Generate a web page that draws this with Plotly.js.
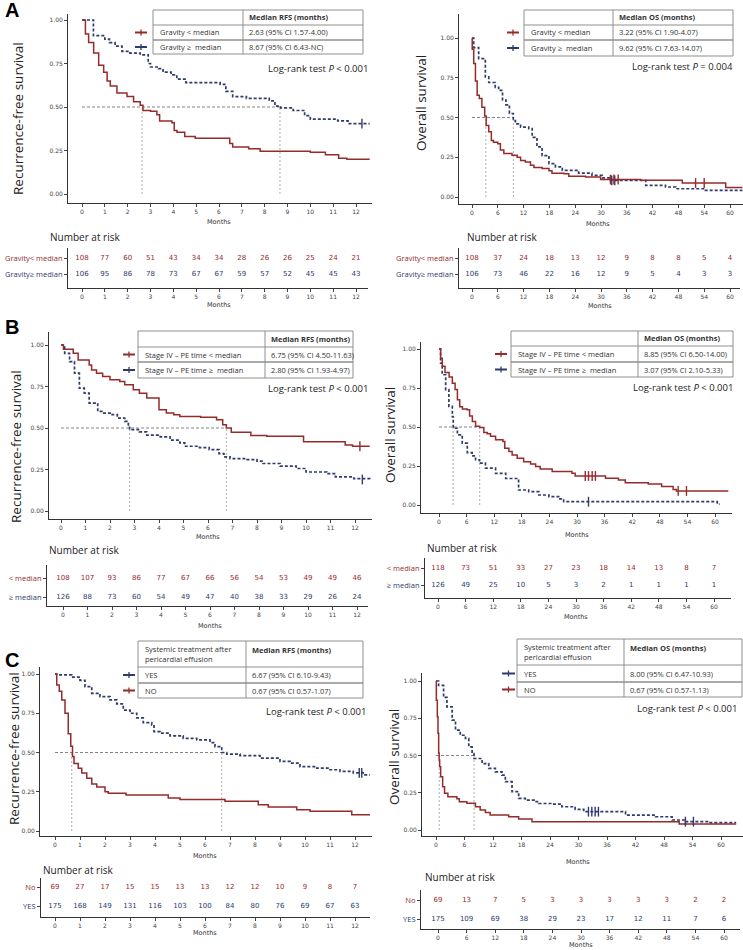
<!DOCTYPE html>
<html>
<head>
<meta charset="utf-8">
<script src="https://cdn.plot.ly/plotly-3.0.1.min.js"></script>
<style>body{margin:0;background:#fff}#chart{width:743px;height:950px}</style>
</head>
<body>
<div id="chart"></div>
<script>
var RED = '#962b2b', BLUE = '#2e3b6c';

// ---- data ----
var monthsShort = [0,1,2,3,4,5,6,7,8,9,10,11,12];
var monthsLong = [0,6,12,18,24,30,36,42,48,54,60];
var survTicks = [0,0.25,0.5,0.75,1];

// A: gravity, RFS
var aRfsLowT = [0,0.15,0.29,0.51,0.73,0.95,1.1,1.24,1.53,1.97,2.26,2.55,2.67,3.0,3.28,3.4,3.94,4.04,4.16,4.5,4.96,6.47,6.6,7.3,7.8,10.0,10.66,11.24,11.6,12.6];
var aRfsLowS = [1,0.92,0.87,0.81,0.74,0.70,0.65,0.62,0.58,0.56,0.53,0.51,0.48,0.475,0.456,0.42,0.41,0.365,0.355,0.33,0.32,0.29,0.27,0.26,0.245,0.24,0.225,0.205,0.2,0.2];
var aRfsHighT = [0,0.5,1.0,1.2,1.45,1.75,2.1,2.55,2.9,3.0,3.35,3.55,3.9,4.15,4.55,6.05,6.3,6.6,7.2,8.2,8.45,8.7,9.25,9.75,10.0,11.2,11.65,12.6];
var aRfsHighS = [1,0.91,0.89,0.87,0.85,0.82,0.81,0.80,0.75,0.73,0.72,0.70,0.685,0.66,0.64,0.63,0.59,0.56,0.55,0.535,0.505,0.495,0.48,0.45,0.43,0.42,0.405,0.405];
var aRfsHighCensT = [12.26], aRfsHighCensS = [0.405];
var aRfsMedians = [2.63, 8.67];

// A: gravity, OS
var aOsLowT = [0,0.05,0.4,0.8,1.2,1.7,2.3,2.95,3.3,3.9,4.5,5.0,6.0,6.6,7.4,9.3,10.5,11.3,12.4,13.6,14.4,16.3,17.9,18.6,21.4,22.5,26.4,29.9,39.2,48.9,59,62.9];
var aOsLowS = [1,0.93,0.84,0.73,0.64,0.62,0.565,0.51,0.45,0.41,0.355,0.345,0.335,0.295,0.273,0.262,0.25,0.23,0.22,0.2,0.185,0.18,0.165,0.15,0.147,0.13,0.126,0.11,0.105,0.088,0.06,0.06];
var aOsLowCensT = [32.2,33.0,34.0,52,54], aOsLowCensS = [0.11,0.11,0.11,0.088,0.088];
var aOsHighT = [0,0.4,1.55,3.1,3.9,5.4,6.2,7.1,7.9,8.7,9.6,10.1,11.3,13.2,14.0,15.1,16.3,17.9,19.4,21,24.8,27.9,30.3,32.0,40.4,45,47.4,54.3,62.9];
var aOsHighS = [1,0.94,0.87,0.755,0.72,0.69,0.67,0.61,0.58,0.525,0.48,0.46,0.44,0.43,0.375,0.315,0.26,0.21,0.19,0.168,0.15,0.136,0.12,0.105,0.073,0.063,0.052,0.042,0.042];
var aOsHighCensT = [32.5,33.2], aOsHighCensS = [0.105,0.105];
var aOsMedians = [3.22, 9.62];

// B: stage IV - PE time, RFS
var bRfsLowT = [0,0.1,0.5,0.7,1.15,1.25,1.45,1.7,2.0,2.4,2.6,2.95,3.2,3.5,4.0,4.3,4.6,4.85,5.7,6.35,6.6,6.75,6.95,7.75,8.4,9.9,11.6,11.9,12.6];
var bRfsLowS = [1,0.975,0.95,0.91,0.88,0.85,0.83,0.81,0.79,0.78,0.76,0.73,0.71,0.68,0.61,0.59,0.58,0.57,0.565,0.55,0.52,0.50,0.475,0.455,0.45,0.417,0.397,0.39,0.39];
var bRfsLowCensT = [12.2], bRfsLowCensS = [0.39];
var bRfsHighT = [0,0.15,0.35,0.55,0.75,0.95,1.15,1.5,1.7,2.05,2.3,2.6,2.75,2.8,3.2,3.5,4.05,4.45,4.85,5.05,5.65,6.05,6.45,6.65,6.9,7.6,8.0,8.25,8.95,9.6,10.0,10.85,11.2,11.95,12.6];
var bRfsHighS = [1,0.95,0.9,0.83,0.74,0.71,0.65,0.6,0.59,0.58,0.56,0.54,0.51,0.49,0.477,0.457,0.447,0.427,0.41,0.39,0.382,0.37,0.346,0.326,0.316,0.31,0.30,0.286,0.27,0.256,0.235,0.225,0.205,0.195,0.19];
var bRfsHighCensT = [12.3], bRfsHighCensS = [0.19];
var bRfsMedians = [6.75, 2.80];

// B: stage IV - PE time, OS
var bOsLowT = [0,0.35,0.7,1.3,2.2,2.9,3.5,4.0,4.5,5.1,6.1,6.65,7.25,7.95,8.85,9.75,10.5,11.2,12.3,13.9,14.3,15.2,15.9,17,18.4,19.9,21,22,24.6,28.9,29.6,36.2,39,40.5,45.5,48.4,50.9,51.6,62.9];
var bOsLowS = [1,0.94,0.89,0.85,0.82,0.78,0.74,0.675,0.63,0.615,0.61,0.57,0.535,0.505,0.497,0.465,0.456,0.44,0.418,0.407,0.364,0.343,0.321,0.3,0.278,0.263,0.246,0.23,0.214,0.203,0.186,0.171,0.16,0.143,0.135,0.118,0.10,0.09,0.09];
var bOsLowCensT = [31.8,32.5,33.3,34.0,52.0,53.8], bOsLowCensS = [0.186,0.186,0.186,0.186,0.09,0.09];
var bOsHighT = [0,0.35,0.7,1.45,2.15,2.9,3.1,4.0,5.05,6.15,7.2,7.95,8.8,10.1,12.3,14.5,17.3,19.5,21.7,23.9,26,27.1,60.5,61];
var bOsHighS = [1,0.91,0.835,0.74,0.632,0.567,0.492,0.45,0.396,0.336,0.315,0.29,0.268,0.236,0.203,0.17,0.096,0.086,0.064,0.054,0.039,0.021,0.006,0.006];
var bOsHighCensT = [32.5], bOsHighCensS = [0.021];
var bOsMedians = [8.85, 3.07];

// C: systemic treatment, RFS
var cRfsNoT = [0,0.07,0.17,0.27,0.4,0.53,0.63,0.7,0.76,0.93,1.07,1.27,1.47,1.67,2.0,2.13,2.84,4.53,5.0,6.8,8.13,8.53,9.67,10.2,11.87,12.6];
var cRfsNoS = [1,0.93,0.89,0.835,0.75,0.62,0.54,0.475,0.43,0.40,0.37,0.336,0.30,0.28,0.25,0.24,0.23,0.21,0.2,0.19,0.167,0.153,0.136,0.125,0.104,0.104];
var cRfsYesT = [0,0.07,0.67,1.0,1.2,1.47,1.8,2.2,2.47,2.73,3.0,3.27,3.53,3.87,3.96,4.2,4.6,5.13,5.67,6.2,6.4,6.67,6.87,7.4,8.2,9.0,9.4,9.8,10.47,11.0,11.4,11.93,12.4,12.6];
var cRfsYesS = [1,0.994,0.98,0.96,0.92,0.877,0.856,0.835,0.81,0.77,0.75,0.72,0.69,0.676,0.633,0.623,0.606,0.59,0.58,0.563,0.538,0.5,0.49,0.48,0.464,0.443,0.432,0.41,0.40,0.39,0.38,0.37,0.358,0.358];
var cRfsYesCensT = [12.17,12.27], cRfsYesCensS = [0.37,0.37];
var cRfsMedians = [6.67, 0.67];

// C: systemic treatment, OS
var cOsNoT = [0,0.07,0.28,0.42,0.56,0.67,0.77,0.98,1.4,1.8,2.5,4.4,4.9,6.5,8.3,9.3,10.4,11.4,15.3,17.4,20.2,51.2,63.2];
var cOsNoS = [1,0.87,0.76,0.65,0.516,0.47,0.424,0.357,0.29,0.246,0.223,0.21,0.19,0.18,0.156,0.134,0.118,0.10,0.089,0.074,0.056,0.04,0.04];
var cOsYesT = [0,0.55,1.6,2.3,3.4,4.1,5.1,6.2,6.9,7.6,8.0,9.7,11.1,12.5,13.9,14.6,16,17.4,18.8,20.9,21.6,24.4,26.5,29.3,31.1,39.9,46.2,49.7,52.5,57.4,63.2];
var cOsYesS = [1,0.97,0.89,0.826,0.737,0.67,0.636,0.614,0.558,0.513,0.48,0.446,0.413,0.39,0.368,0.324,0.257,0.212,0.2,0.19,0.178,0.174,0.156,0.138,0.123,0.10,0.089,0.067,0.056,0.049,0.049];
var cOsYesCensT = [32.1,32.8,33.5,34.2,52.5,54.2], cOsYesCensS = [0.123,0.123,0.123,0.123,0.056,0.056];
var cOsMedians = [8.00, 0.67];

// numbers at risk
var aRiskRfsLow = [108,77,60,51,43,34,34,28,26,26,25,24,21];
var aRiskRfsHigh = [106,95,86,78,73,67,67,59,57,52,45,45,43];
var aRiskOsLow = [108,37,24,18,13,12,9,8,8,5,4];
var aRiskOsHigh = [106,73,46,22,16,12,9,5,4,3,3];
var bRiskRfsLow = [108,107,93,86,77,67,66,56,54,53,49,49,46];
var bRiskRfsHigh = [126,88,73,60,54,49,47,40,38,33,29,26,24];
var bRiskOsLow = [118,73,51,33,27,23,18,14,13,8,7];
var bRiskOsHigh = [126,49,25,10,5,3,2,1,1,1,1];
var cRiskRfsNo = [69,27,17,15,15,13,13,12,12,10,9,8,7];
var cRiskRfsYes = [175,168,149,131,116,103,100,84,80,76,69,67,63];
var cRiskOsNo = [69,13,7,5,3,3,3,3,3,2,2];
var cRiskOsYes = [175,109,69,38,29,23,17,12,11,7,6];

// ---- layout helpers ----
var W = 743, H = 950;
function px(x) { return x / W; }
function py(y) { return 1 - y / H; }
function lin(pA, vA, pB, vB, q0, q1) {
  var k = (vB - vA) / (pB - pA);
  return [vA + (q0 - pA) * k, vA + (q1 - pA) * k];
}

var traces = [];
var shapes = [];
var annotations = [];
var layout = {
  width: W, height: H,
  margin: {l: 0, r: 0, t: 0, b: 0},
  paper_bgcolor: '#fff', plot_bgcolor: 'rgba(0,0,0,0)',
  showlegend: false,
  font: {family: 'Open Sans', color: '#222'}
};

function setAxes(n, box, xticks, yticks, yticktext) {
  var sx = n == 1 ? '' : String(n);
  var base = {showline: true, linecolor: '#333', linewidth: 1, ticks: 'outside', ticklen: 3,
    tickcolor: '#444', tickwidth: 1, showgrid: false, zeroline: false, fixedrange: true,
    tickfont: {family: 'DejaVu Sans', size: 6, color: '#444'}};
  layout['xaxis' + sx] = Object.assign({}, base, {
    domain: [px(box.left), px(box.right)],
    range: lin(box.xA[0], box.xA[1], box.xB[0], box.xB[1], box.left, box.right),
    anchor: 'y' + sx, tickmode: 'array', tickvals: xticks
  });
  var ya = Object.assign({}, base, {
    domain: [py(box.bottom), py(box.top)],
    range: lin(box.yA[0], box.yA[1], box.yB[0], box.yB[1], box.bottom, box.top),
    anchor: 'x' + sx, tickmode: 'array', tickvals: yticks
  });
  if (yticktext) {
    ya.ticktext = yticktext;
    ya.tickfont = {family: 'Open Sans', size: 7.5, color: '#444'};
  } else {
    ya.tickformat = '.2f';
  }
  layout['yaxis' + sx] = ya;
  return {x: 'x' + sx, y: 'y' + sx};
}

function kmLine(t, s, color, dashed, ax) {
  traces.push({x: t, y: s, xaxis: ax.x, yaxis: ax.y, mode: 'lines', hoverinfo: 'skip',
    line: {shape: 'hv', color: color, width: dashed ? 1.7 : 1.5, dash: dashed ? '3px,2px' : 'solid'}});
}
function censor(t, s, color, ax) {
  traces.push({x: t, y: s, xaxis: ax.x, yaxis: ax.y, mode: 'markers', hoverinfo: 'skip',
    marker: {symbol: 'line-ns', size: 7, line: {color: color, width: 1.4}}});
}
function medianGuides(meds, ax) {
  var hx = [0, Math.max.apply(null, meds)];
  traces.push({x: hx, y: [0.5, 0.5], xaxis: ax.x, yaxis: ax.y, mode: 'lines', hoverinfo: 'skip',
    line: {color: '#666', width: 0.8, dash: '3px,2px'}});
  var vx = [], vy = [];
  meds.forEach(function(m) { vx.push(m, m, null); vy.push(0, 0.5, null); });
  traces.push({x: vx, y: vy, xaxis: ax.x, yaxis: ax.y, mode: 'lines', hoverinfo: 'skip',
    line: {color: '#999', width: 0.8, dash: '2px,2px'}});
}
function riskRow(times, counts, color, row, ax) {
  traces.push({x: times, y: times.map(function() { return row; }), text: counts.map(String),
    xaxis: ax.x, yaxis: ax.y, mode: 'text', hoverinfo: 'skip',
    textfont: {family: 'DejaVu Sans', size: 7, color: color}});
}
function label(text, x, y, opts) {
  annotations.push(Object.assign({text: text, x: px(x), y: py(y), xref: 'paper', yref: 'paper',
    showarrow: false, xanchor: 'center', yanchor: 'middle', font: {size: 8, color: '#333'}}, opts || {}));
}
function line(x0, y0, x1, y1, color, width) {
  shapes.push({type: 'line', xref: 'paper', yref: 'paper', x0: px(x0), y0: py(y0), x1: px(x1), y1: py(y1),
    line: {color: color, width: width}});
}
function medianTable(t) {
  var c = '#8f8f8f';
  line(t.x0, t.y0, t.x1, t.y0, c, 1);
  line(t.x0, t.y2, t.x1, t.y2, c, 1);
  line(t.x0, t.y0, t.x0, t.y2, c, 1);
  line(t.x1, t.y0, t.x1, t.y2, c, 1);
  line(t.xc, t.y0, t.xc, t.y2, c, 1);
  line(t.x0, t.yh, t.x1, t.yh, c, 1);
  line(t.x0, t.y1, t.x1, t.y1, c, 1.4);
  var f = {family: 'Open Sans', size: 7.5, color: '#333'};
  label('<b>' + t.head + '</b>', t.xc + 4, (t.y0 + t.yh) / 2 - (t.headLeft ? 4 : 0), {xanchor: 'left', font: f});
  if (t.headLeft) label(t.headLeft, t.x0 + 5, (t.y0 + t.yh) / 2, {xanchor: 'left', font: f, align: 'left'});
  var ys = [(t.yh + t.y1) / 2, (t.y1 + t.y2) / 2];
  t.rows.forEach(function(r, i) {
    label(r[0], t.x0 + 5, ys[i], {xanchor: 'left', font: f});
    label(r[1], t.xc + 4, ys[i], {xanchor: 'left', font: f});
    line(t.mx0, ys[i], t.mx1, ys[i], r[2], 2);
    var mid = (t.mx0 + t.mx1) / 2;
    line(mid, ys[i] - 3, mid, ys[i] + 3, r[2], 1.3);
  });
  label('Log-rank test <i>P</i> ' + t.p, t.lx, t.ly, {xanchor: 'right', font: {family: 'Open Sans', size: 9.5, color: '#222'}});
}

// ---- panel boxes (pixels) ----
var boxes = [
  {left: 68, right: 372, top: 14, bottom: 203, xA: [82, 0], xB: [356, 12], yA: [194, 0], yB: [20, 1]},
  {left: 459, right: 743, top: 14, bottom: 204, xA: [472, 0], xB: [730, 60], yA: [197, 0], yB: [38, 1]},
  {left: 49, right: 372, top: 332, bottom: 519, xA: [61, 0], xB: [355, 12], yA: [511, 0], yB: [345, 1]},
  {left: 421, right: 732, top: 342, bottom: 513, xA: [439, 0], xB: [715, 60], yA: [505, 0], yB: [349, 1]},
  {left: 40, right: 372, top: 667, bottom: 836, xA: [55, 0], xB: [355, 12], yA: [831, 0], yB: [674, 1]},
  {left: 422, right: 743, top: 673, bottom: 836, xA: [436, 0], xB: [721, 60], yA: [830, 0], yB: [681, 1]},
  {left: 68, right: 368, top: 248, bottom: 288, xA: [82, 0], xB: [356, 12], yA: [274, 0], yB: [258, 1]},
  {left: 459, right: 740, top: 248, bottom: 288, xA: [472, 0], xB: [730, 60], yA: [274, 0], yB: [258, 1]},
  {left: 47, right: 368, top: 565, bottom: 606, xA: [63, 0], xB: [357, 12], yA: [597, 0], yB: [578, 1]},
  {left: 425, right: 731, top: 558, bottom: 598, xA: [438, 0], xB: [714, 60], yA: [585, 0], yB: [568, 1]},
  {left: 41, right: 370, top: 878, bottom: 917, xA: [55, 0], xB: [355, 12], yA: [906, 0], yB: [887, 1]},
  {left: 421, right: 740, top: 890, bottom: 929, xA: [438, 0], xB: [724, 60], yA: [919, 0], yB: [900, 1]}
];

function rowText(txt, color) { return '<span style="color:' + color + '">' + txt + '</span>'; }

var pA1 = setAxes(1, boxes[0], monthsShort, survTicks);
var pA2 = setAxes(2, boxes[1], monthsLong, survTicks);
var pB1 = setAxes(3, boxes[2], monthsShort, survTicks);
var pB2 = setAxes(4, boxes[3], monthsLong, survTicks);
var pC1 = setAxes(5, boxes[4], monthsShort, survTicks);
var pC2 = setAxes(6, boxes[5], monthsLong, survTicks);
var gravLbl = [rowText('Gravity≥ median', BLUE), rowText('Gravity&lt; median', RED)];
var medLbl = [rowText('≥ median', BLUE), rowText('&lt; median', RED)];
var treatLbl = [rowText('YES', BLUE), rowText('No', RED)];
var tA1 = setAxes(7, boxes[6], monthsShort, [0, 1], gravLbl);
var tA2 = setAxes(8, boxes[7], monthsLong, [0, 1], gravLbl);
var tB1 = setAxes(9, boxes[8], monthsShort, [0, 1], medLbl);
var tB2 = setAxes(10, boxes[9], monthsLong, [0, 1], medLbl);
var tC1 = setAxes(11, boxes[10], monthsShort, [0, 1], treatLbl);
var tC2 = setAxes(12, boxes[11], monthsLong, [0, 1], treatLbl);

// ---- curves ----
medianGuides(aRfsMedians, pA1);
kmLine(aRfsHighT, aRfsHighS, BLUE, true, pA1);
kmLine(aRfsLowT, aRfsLowS, RED, false, pA1);
censor(aRfsHighCensT, aRfsHighCensS, BLUE, pA1);

medianGuides(aOsMedians, pA2);
kmLine(aOsHighT, aOsHighS, BLUE, true, pA2);
kmLine(aOsLowT, aOsLowS, RED, false, pA2);
censor(aOsHighCensT, aOsHighCensS, BLUE, pA2);
censor(aOsLowCensT, aOsLowCensS, RED, pA2);

medianGuides(bRfsMedians, pB1);
kmLine(bRfsHighT, bRfsHighS, BLUE, true, pB1);
kmLine(bRfsLowT, bRfsLowS, RED, false, pB1);
censor(bRfsHighCensT, bRfsHighCensS, BLUE, pB1);
censor(bRfsLowCensT, bRfsLowCensS, RED, pB1);

medianGuides(bOsMedians, pB2);
kmLine(bOsHighT, bOsHighS, BLUE, true, pB2);
kmLine(bOsLowT, bOsLowS, RED, false, pB2);
censor(bOsHighCensT, bOsHighCensS, BLUE, pB2);
censor(bOsLowCensT, bOsLowCensS, RED, pB2);

medianGuides(cRfsMedians, pC1);
kmLine(cRfsYesT, cRfsYesS, BLUE, true, pC1);
kmLine(cRfsNoT, cRfsNoS, RED, false, pC1);
censor(cRfsYesCensT, cRfsYesCensS, BLUE, pC1);

medianGuides(cOsMedians, pC2);
kmLine(cOsYesT, cOsYesS, BLUE, true, pC2);
kmLine(cOsNoT, cOsNoS, RED, false, pC2);
censor(cOsYesCensT, cOsYesCensS, BLUE, pC2);

// ---- numbers at risk ----
riskRow(monthsShort, aRiskRfsLow, RED, 1, tA1);
riskRow(monthsShort, aRiskRfsHigh, BLUE, 0, tA1);
riskRow(monthsLong, aRiskOsLow, RED, 1, tA2);
riskRow(monthsLong, aRiskOsHigh, BLUE, 0, tA2);
riskRow(monthsShort, bRiskRfsLow, RED, 1, tB1);
riskRow(monthsShort, bRiskRfsHigh, BLUE, 0, tB1);
riskRow(monthsLong, bRiskOsLow, RED, 1, tB2);
riskRow(monthsLong, bRiskOsHigh, BLUE, 0, tB2);
riskRow(monthsShort, cRiskRfsNo, RED, 1, tC1);
riskRow(monthsShort, cRiskRfsYes, BLUE, 0, tC1);
riskRow(monthsLong, cRiskOsNo, RED, 1, tC2);
riskRow(monthsLong, cRiskOsYes, BLUE, 0, tC2);

// ---- text ----
var letterFont = {family: 'Liberation Sans', size: 20, color: '#000'};
label('<b>A</b>', 3, 10, {xanchor: 'left', font: letterFont});
label('<b>B</b>', 3, 327, {xanchor: 'left', font: letterFont});
label('<b>C</b>', 3, 660, {xanchor: 'left', font: letterFont});

var ytFont = {family: 'Open Sans', size: 13.5, color: '#222'};
label('Recurrence-free survival', 18, 119, {textangle: -90, font: ytFont});
label('Overall survival', 421, 103, {textangle: -90, font: ytFont});
label('Recurrence-free survival', 16, 447, {textangle: -90, font: ytFont});
label('Overall survival', 390, 435, {textangle: -90, font: ytFont});
label('Recurrence-free survival', 14, 749, {textangle: -90, font: ytFont});
label('Overall survival', 394, 757, {textangle: -90, font: ytFont});

var mFont = {family: 'DejaVu Sans', size: 6.5, color: '#333'};
[[219, 222], [598, 224], [208, 537], [577, 535], [205, 856], [578, 862],
 [219, 305], [600, 306], [210, 626], [576, 617], [205, 933], [581, 945]].forEach(function(p) {
  label('Months', p[0], p[1], {font: mFont});
});

var nrFont = {family: 'Open Sans', size: 10, color: '#222'};
[[48, 237], [465, 237], [47, 550], [425, 548], [41, 870], [423, 877]].forEach(function(p) {
  label('Number at risk', p[0], p[1], {xanchor: 'left', font: nrFont});
});

medianTable({x0: 153, xc: 243, x1: 363, y0: 10, yh: 25, y1: 40, y2: 54, mx0: 135, mx1: 147,
  head: 'Median RFS (months)',
  rows: [['Gravity &lt; median', '2.63 (95% CI 1.57-4.00)', RED], ['Gravity ≥  median', '8.67 (95% CI 6.43-NC)', BLUE]],
  p: '&lt; 0.001', lx: 370, ly: 68});
medianTable({x0: 524, xc: 613, x1: 733, y0: 10, yh: 25, y1: 40, y2: 56, mx0: 507, mx1: 519,
  head: 'Median OS (months)',
  rows: [['Gravity &lt; median', '3.22 (95% CI 1.90-4.07)', RED], ['Gravity ≥  median', '9.62 (95% CI 7.63-14.07)', BLUE]],
  p: '= 0.004', lx: 735, ly: 67});
medianTable({x0: 138, xc: 265, x1: 353, y0: 331, yh: 347, y1: 362, y2: 378, mx0: 123, mx1: 135,
  head: 'Median RFS (months)',
  rows: [['Stage IV – PE time &lt; median', '6.75 (95% CI 4.50-11.63)', RED], ['Stage IV – PE time ≥  median', '2.80 (95% CI 1.93-4.97)', BLUE]],
  p: '&lt; 0.001', lx: 370, ly: 388});
medianTable({x0: 511, xc: 638, x1: 733, y0: 331, yh: 346, y1: 362, y2: 377, mx0: 495, mx1: 507,
  head: 'Median OS (months)',
  rows: [['Stage IV – PE time &lt; median', '8.85 (95% CI 6.50-14.00)', RED], ['Stage IV – PE time ≥  median', '3.07 (95% CI 2.10-5.33)', BLUE]],
  p: '&lt; 0.001', lx: 735, ly: 387});
medianTable({x0: 138, xc: 246, x1: 363, y0: 641, yh: 667, y1: 683, y2: 698, mx0: 123, mx1: 135,
  head: 'Median RFS (months)', headLeft: 'Systemic treatment after<br>pericardial effusion',
  rows: [['YES', '6.67 (95% CI 6.10-9.43)', BLUE], ['NO', '0.67 (95% CI 0.57-1.07)', RED]],
  p: '&lt; 0.001', lx: 368, ly: 711});
medianTable({x0: 517, xc: 624, x1: 742, y0: 639, yh: 665, y1: 682, y2: 697, mx0: 502, mx1: 515,
  head: 'Median OS (months)', headLeft: 'Systemic treatment after<br>pericardial effusion',
  rows: [['YES', '8.00 (95% CI 6.47-10.93)', BLUE], ['NO', '0.67 (95% CI 0.57-1.13)', RED]],
  p: '&lt; 0.001', lx: 739, ly: 708});

layout.shapes = shapes;
layout.annotations = annotations;
Plotly.newPlot('chart', traces, layout, {staticPlot: true, displayModeBar: false});
</script>
</body>
</html>
